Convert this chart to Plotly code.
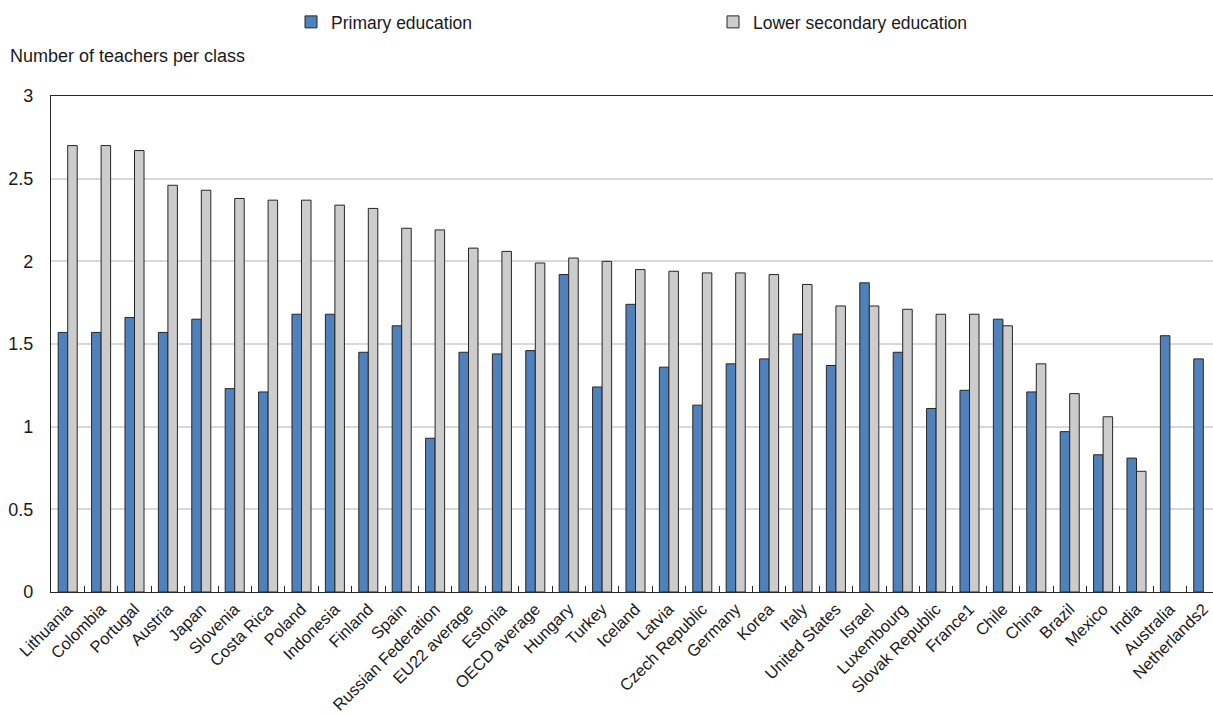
import plotly.graph_objects as go

categories = ["Lithuania", "Colombia", "Portugal", "Austria", "Japan", "Slovenia", "Costa Rica",
              "Poland", "Indonesia", "Finland", "Spain", "Russian Federation", "EU22 average",
              "Estonia", "OECD average", "Hungary", "Turkey", "Iceland", "Latvia", "Czech Republic",
              "Germany", "Korea", "Italy", "United States", "Israel", "Luxembourg", "Slovak Republic",
              "France1", "Chile", "China", "Brazil", "Mexico", "India", "Australia", "Netherlands2"]

primary = [1.57, 1.57, 1.66, 1.57, 1.65, 1.23, 1.21, 1.68, 1.68, 1.45, 1.61, 0.93, 1.45,
           1.44, 1.46, 1.92, 1.24, 1.74, 1.36, 1.13, 1.38, 1.41, 1.56, 1.37, 1.87, 1.45,
           1.11, 1.22, 1.65, 1.21, 0.97, 0.83, 0.81, 1.55, 1.41]

lower_secondary = [2.70, 2.70, 2.67, 2.46, 2.43, 2.38, 2.37, 2.37, 2.34, 2.32, 2.20, 2.19, 2.08,
                   2.06, 1.99, 2.02, 2.00, 1.95, 1.94, 1.93, 1.93, 1.92, 1.86, 1.73, 1.73, 1.71,
                   1.68, 1.68, 1.61, 1.38, 1.20, 1.06, 0.73, None, None]

font_family = "Liberation Sans, Arial, sans-serif"

W, H = 1213, 716
L, R, T, B = 51, 0, 96, 124
PW, PH = W - L - R, H - T - B

fig = go.Figure()
fig.add_trace(go.Bar(x=categories, y=primary, name="Primary education",
                     marker=dict(color="#4F81BD", line=dict(color="#262626", width=1))))
fig.add_trace(go.Bar(x=categories, y=lower_secondary, name="Lower secondary education",
                     marker=dict(color="#CCCCCC", line=dict(color="#262626", width=1))))

fig.update_layout(
    width=W, height=H,
    margin=dict(l=L, r=R, t=T, b=B, autoexpand=False),
    paper_bgcolor="white", plot_bgcolor="white",
    font=dict(family=font_family, size=17, color="#1a1a1a"),
    barmode="group", bargap=0.43, bargroupgap=0,
    showlegend=True,
    legend=dict(orientation="h", x=(291 - L) / PW, xanchor="left",
                y=1 + (T - 22) / PH, yanchor="middle",
                entrywidth=377, entrywidthmode="pixels", itemwidth=30,
                font=dict(size=17.5), bgcolor="rgba(0,0,0,0)"),
    annotations=[dict(text="Number of teachers per class", xref="paper", yref="paper",
                      x=(8 - L) / PW, y=1 + (T - 56) / PH, xanchor="left", yanchor="middle",
                      showarrow=False, font=dict(size=18))],
)
fig.update_xaxes(showline=True, linecolor="#262626", linewidth=1.2, mirror=True,
                 ticks="inside", tickson="boundaries", ticklen=6, tickcolor="#262626",
                 tickangle=-45, tickfont=dict(size=16.5), showgrid=False, automargin=False,
                 range=[-0.5, 34.5 - 7 / 33.4])
fig.update_yaxes(range=[0, 3], dtick=0.5, showline=True, linecolor="#262626", linewidth=1.2,
                 mirror=True, showgrid=True, gridcolor="#D9D9D9", gridwidth=1.5,
                 tickfont=dict(size=18), ticks="", zeroline=False, automargin=False,
                 ticklabelstandoff=13)

fig.write_html("out.html", config={"displayModeBar": False},
               post_script="document.body.style.margin='0px';document.body.style.overflow='hidden';")
